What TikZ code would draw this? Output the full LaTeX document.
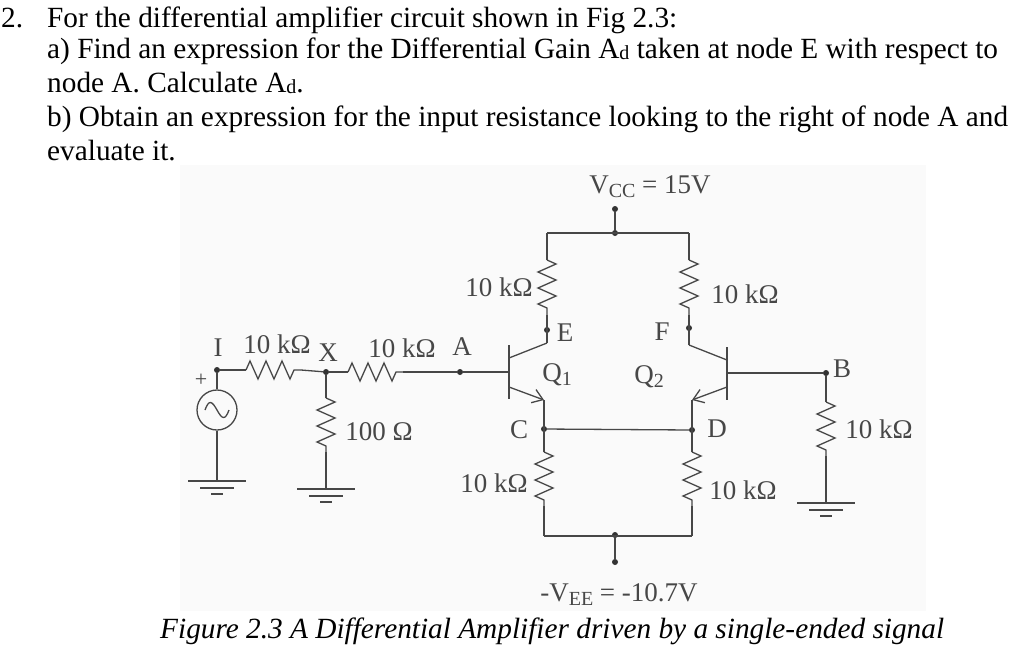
\documentclass[tikz,border=0pt]{standalone}
\usepackage{fontspec}
\setmainfont{Liberation Serif}
\usepackage{tikz}
\usetikzlibrary{arrows.meta,decorations.pathmorphing}

\newcommand{\subd}{\raisebox{-1pt}{\fontsize{20pt}{20pt}\selectfont d}}
\newcommand{\lowtxt}[1]{\raisebox{-4pt}{\fontsize{20pt}{20pt}\selectfont #1}}

\tikzset{
    wire/.style={line width=1.3pt, color=black!72},
    res/.style={wire, decorate, decoration={zigzag, segment length=16pt, amplitude=9pt}},
    emit/.style={wire, -{Straight Barb[length=10pt, width=14pt]}},
    dot/.style={circle, minimum size=6pt, fill=black!80},
    para/.style={anchor=base west, font=\fontsize{29.3pt}{30pt}\selectfont},
    lab/.style={font=\fontsize{27pt}{28pt}\selectfont, text=black!72},
}

\begin{document}
\begin{tikzpicture}
    [every node/.style={inner sep=0pt}, x=1pt, y=1pt]
        \useasboundingbox (0,0) rectangle (1024,-657);
        \fill [color=black!2] (180,-165) rectangle (926,-611);
        % question text
        \node (line1) [para] at (1,-27) {2.\hspace{24pt}For the differential amplifier circuit shown in Fig 2.3:};
        \node (line2) [para] at (47,-58) {a) Find an expression for the Differential Gain A\subd{} taken at node E with respect to};
        \node (line3) [para] at (47,-92) {node A. Calculate A\subd.};
        \node (line4) [para] at (47,-126) {b) Obtain an expression for the input resistance looking to the right of node A and};
        \node (line5) [para] at (47,-160) {evaluate it.};
        \node (caption) [para, font=\fontsize{29.3pt}{30pt}\selectfont\itshape] at (160,-638) {Figure 2.3 A Differential Amplifier driven by a single-ended signal};
        % dots
        \node (I) [dot] at (217,-370) {};
        \node (X) [dot] at (326,-372) {};
        \node (A) [dot] at (460,-372) {};
        \node (vcc) [dot] at (615,-209) {};
        \node (top) [dot] at (615,-233) {};
        \node (E) [dot] at (547,-330) {};
        \node (F) [dot] at (689,-328) {};
        \node (C) [dot] at (544,-429) {};
        \node (D) [dot] at (692,-430) {};
        \node (B) [dot] at (826,-373) {};
        \node (bot) [dot] at (615,-535) {};
        \node (vee) [dot] at (615,-562) {};
        % source
        \node (src) [circle, minimum size=40pt, wire, draw] at (217,-410) {};
        \draw [wire] (I) to (src);
        \draw [wire] ([xshift=-12pt]src.center) .. controls ++(4,11) and ++(-5,9) .. (src.center) .. controls ++(5,-9) and ++(-4,-11) .. ([xshift=12pt]src.center);
        % coordinates
        \coordinate (r1a) at (246,-370);
        \coordinate (r1b) at (301,-370);
        \coordinate (r2a) at (348,-372);
        \coordinate (r2b) at (403,-372);
        \coordinate (r3a) at (326,-398);
        \coordinate (r3b) at (326,-452);
        \coordinate (g1) at (217,-481);
        \coordinate (g2) at (326,-489);
        \coordinate (g3) at (826,-503);
        \coordinate (base1) at (509,-372);
        \coordinate (base2) at (727,-373);
        \coordinate (c1) at (547,-343);
        \coordinate (c2) at (689,-345);
        \coordinate (e1) at (544,-400);
        \coordinate (e2) at (692,-400);
        \coordinate (tl) at (547,-233);
        \coordinate (tr) at (689,-233);
        \coordinate (bl) at (544,-536);
        \coordinate (br) at (692,-536);
        \coordinate (rEa) at (547,-260);
        \coordinate (rEb) at (547,-315);
        \coordinate (rFa) at (689,-260);
        \coordinate (rFb) at (689,-315);
        \coordinate (rCa) at (544,-452);
        \coordinate (rCb) at (544,-506);
        \coordinate (rDa) at (692,-452);
        \coordinate (rDb) at (692,-506);
        \coordinate (rBa) at (826,-402);
        \coordinate (rBb) at (826,-456);
        % input side
        \draw [wire] (I) -- (r1a);
        \draw [res] (r1a) -- (r1b);
        \draw [wire] (r1b) -- (X);
        \draw [wire] (X) -- (r2a);
        \draw [res] (r2a) -- (r2b);
        \draw [wire] (r2b) -- (A);
        \draw [wire] (A) -- (base1);
        \draw [wire] (X) -- (r3a);
        \draw [res] (r3a) -- (r3b);
        \draw [wire] (r3b) -- (g2);
        \draw [wire] (src) -- (g1);
        % grounds
        \draw [wire] ([xshift=-29pt]g1) -- ([xshift=29pt]g1);
        \draw [wire] ([shift={(-17pt,-7pt)}]g1) -- ([shift={(17pt,-7pt)}]g1);
        \draw [wire] ([shift={(-6pt,-13pt)}]g1) -- ([shift={(6pt,-13pt)}]g1);
        \draw [wire] ([xshift=-29pt]g2) -- ([xshift=29pt]g2);
        \draw [wire] ([shift={(-17pt,-7pt)}]g2) -- ([shift={(17pt,-7pt)}]g2);
        \draw [wire] ([shift={(-6pt,-13pt)}]g2) -- ([shift={(6pt,-13pt)}]g2);
        \draw [wire] ([xshift=-29pt]g3) -- ([xshift=29pt]g3);
        \draw [wire] ([shift={(-17pt,-7pt)}]g3) -- ([shift={(17pt,-7pt)}]g3);
        \draw [wire] ([shift={(-6pt,-13pt)}]g3) -- ([shift={(6pt,-13pt)}]g3);
        % supply rails
        \draw [wire] (vcc) -- (top);
        \draw [wire] (tl) -- (tr);
        \draw [wire] (tl) -- (rEa);
        \draw [wire] (tr) -- (rFa);
        \draw [res] (rEa) -- (rEb);
        \draw [res] (rFa) -- (rFb);
        \draw [wire] (rEb) -- (c1);
        \draw [wire] (rFb) -- (c2);
        % Q1
        \draw [wire] ([yshift=27pt]base1) -- ([yshift=-27pt]base1);
        \draw [wire] ([yshift=14pt]base1) -- (c1);
        \draw [emit] ([yshift=-15pt]base1) -- (e1);
        % Q2
        \draw [wire] ([yshift=26pt]base2) -- ([yshift=-27pt]base2);
        \draw [wire] ([yshift=13pt]base2) -- (c2);
        \draw [emit] ([yshift=-14pt]base2) -- (e2);
        \draw [wire] (base2) -- (B);
        % lower half
        \draw [wire] (e1) -- (rCa);
        \draw [wire] (e2) -- (rDa);
        \draw [wire] (C) -- (D);
        \draw [res] (rCa) -- (rCb);
        \draw [res] (rDa) -- (rDb);
        \draw [wire] (rCb) -- (bl);
        \draw [wire] (rDb) -- (br);
        \draw [wire] (bl) -- (br);
        \draw [wire] (bot) -- (vee);
        \draw [wire] (B) -- (rBa);
        \draw [res] (rBa) -- (rBb);
        \draw [wire] (rBb) -- (g3);
        % labels
        \node (labI) [lab] at (218,-348) {I};
        \node (labplus) [lab, font=\fontsize{22pt}{22pt}\selectfont] at (201,-380) {+};
        \node (labR1) [lab] at (277,-344) {10 kΩ};
        \node (labX) [lab] at (328,-353) {X};
        \node (labR2) [lab] at (402,-348) {10 kΩ};
        \node (labA) [lab] at (462,-347) {A};
        \node (labR3) [lab] at (379,-432) {100 Ω};
        \node (labVcc) [lab] at (650,-187) {V\lowtxt{CC} = 15V};
        \node (labRE) [lab] at (499,-287) {10 kΩ};
        \node (labRF) [lab] at (745,-294) {10 kΩ};
        \node (labE) [lab] at (565,-333) {E};
        \node (labF) [lab] at (662,-332) {F};
        \node (labQ1) [lab] at (557,-375) {Q\lowtxt{1}};
        \node (labQ2) [lab] at (649,-377) {Q\lowtxt{2}};
        \node (labC) [lab] at (519,-430) {C};
        \node (labD) [lab] at (717,-429) {D};
        \node (labB) [lab] at (842,-369) {B};
        \node (labRB) [lab] at (879,-429) {10 kΩ};
        \node (labRC) [lab] at (494,-483) {10 kΩ};
        \node (labRD) [lab] at (743,-490) {10 kΩ};
        \node (labVee) [lab] at (619,-595) {-V\lowtxt{EE} = -10.7V};
    \end{tikzpicture}
\end{document}
